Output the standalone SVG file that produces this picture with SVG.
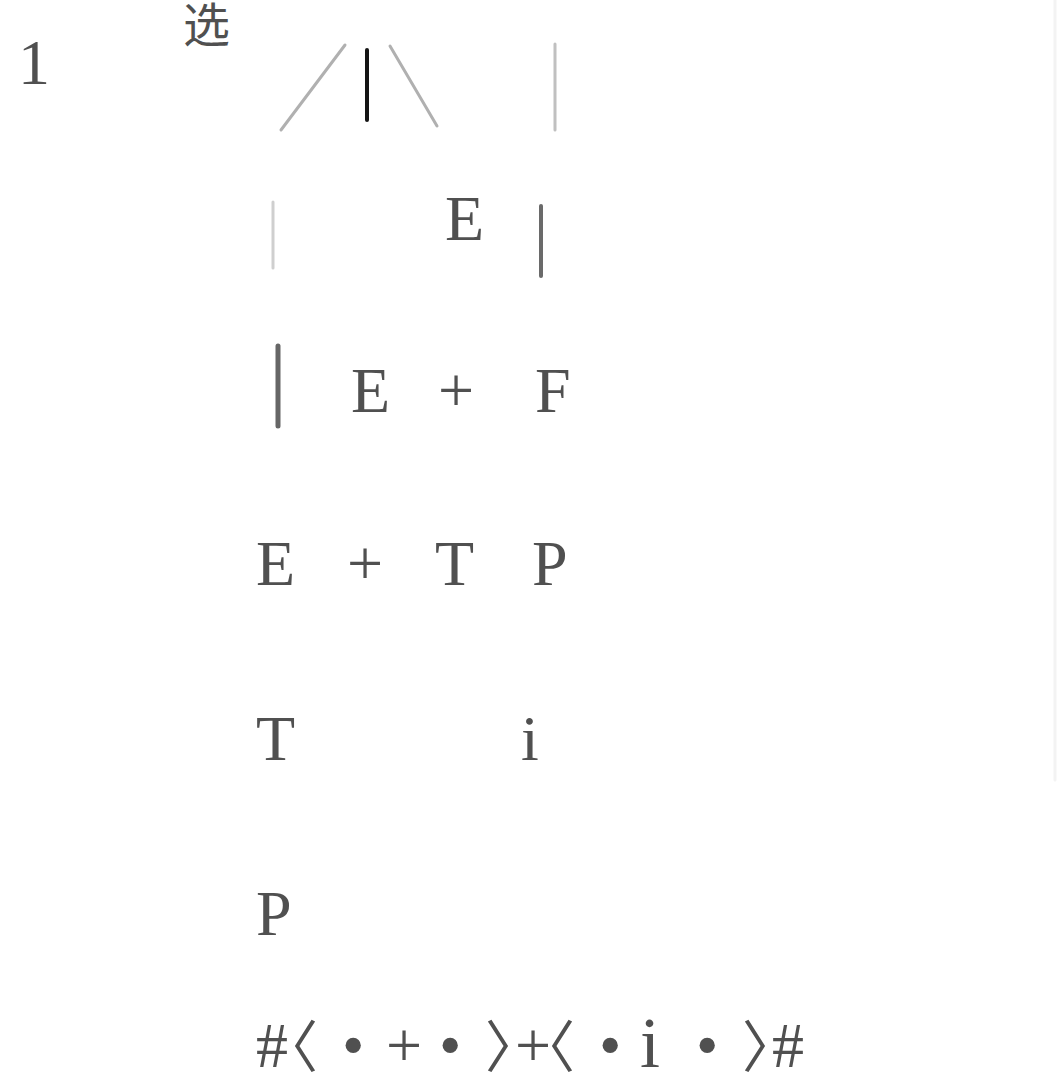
<svg xmlns="http://www.w3.org/2000/svg" width="1061" height="1078" viewBox="0 0 1061 1078">
<style>
.t{font-family:"Liberation Serif","Noto Serif CJK SC","Noto Sans CJK SC",serif;font-size:64px;fill:#505050}
.c{font-family:"Noto Sans CJK SC","Liberation Serif",sans-serif;fill:#505050}
.b{font-family:"Noto Sans CJK SC",sans-serif;font-size:56px}
</style>
<rect width="1061" height="1078" fill="#ffffff"/>
<g id="connectors" fill="none" stroke-linecap="round">
<line x1="345" y1="45" x2="281" y2="130" stroke="#b0b0b0" stroke-width="3"/>
<line x1="367" y1="50" x2="367" y2="120" stroke="#151515" stroke-width="4"/>
<line x1="390" y1="46" x2="437" y2="126" stroke="#b0b0b0" stroke-width="3"/>
<line x1="555" y1="44" x2="555" y2="130" stroke="#c0c0c0" stroke-width="3"/>
<line x1="273" y1="202" x2="273" y2="268" stroke="#cfcfcf" stroke-width="3"/>
<line x1="541" y1="206" x2="541" y2="276" stroke="#6a6a6a" stroke-width="4"/>
<line x1="278" y1="346" x2="278" y2="426" stroke="#666666" stroke-width="5"/>
<line x1="1055" y1="0" x2="1055" y2="780" stroke="#f3f3f3" stroke-width="3"/>
</g>
<g id="label-1"><text class="t" x="18" y="84" font-size="58">1</text></g>
<g id="label-xuan"><text class="c" x="183" y="42" font-size="47">选</text></g>
<g id="node-E-top"><text class="t" x="445" y="240">E</text></g>
<g id="node-E-row3"><text class="t" x="351" y="412">E</text></g>
<g id="node-plus-row3"><text class="t" x="438" y="412">+</text></g>
<g id="node-F"><text class="t" x="535" y="412">F</text></g>
<g id="node-E-row4"><text class="t" x="256" y="585">E</text></g>
<g id="node-plus-row4"><text class="t" x="347" y="585">+</text></g>
<g id="node-T-row4"><text class="t" x="435" y="585">T</text></g>
<g id="node-P-row4"><text class="t" x="532" y="585">P</text></g>
<g id="node-T-row5"><text class="t" x="256" y="760">T</text></g>
<g id="node-i"><text class="t" x="521" y="760">i</text></g>
<g id="node-P-row6"><text class="t" x="256" y="935">P</text></g>
<g id="sentence">
<text class="t" y="1067"><tspan x="256">#</tspan><tspan x="262" class="b">〈</tspan><tspan x="342">•</tspan><tspan x="386">+</tspan><tspan x="439">•</tspan><tspan x="485" class="b">〉</tspan><tspan x="515">+</tspan><tspan x="519" class="b">〈</tspan><tspan x="599">•</tspan><tspan x="640" font-size="72">i</tspan><tspan x="696">•</tspan><tspan x="742" class="b">〉</tspan><tspan x="772">#</tspan></text>
</g>
</svg>
